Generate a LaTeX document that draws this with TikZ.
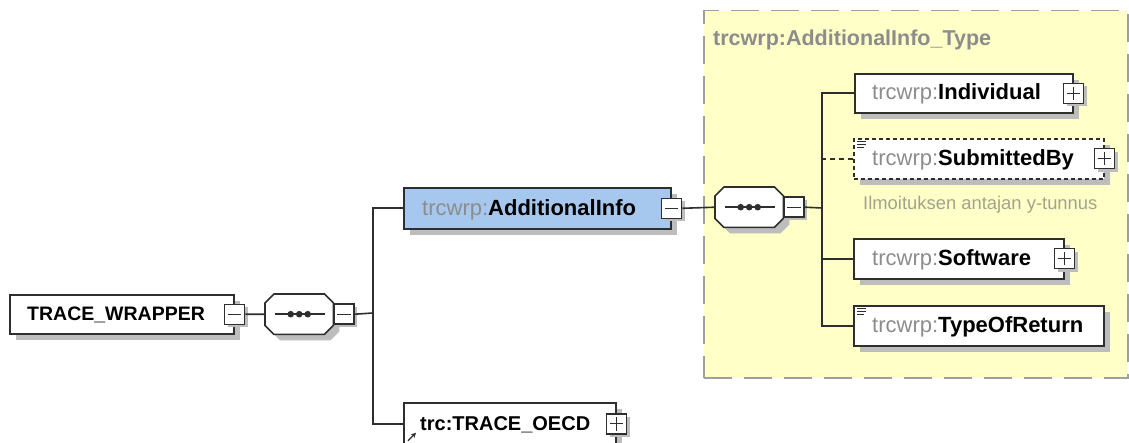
\documentclass[tikz,border=0pt]{standalone}
\usepackage{fontspec}
\setmainfont{Liberation Sans}
\usetikzlibrary{calc,shadows,arrows.meta}
\definecolor{ybg}{HTML}{FFFFC8}
\definecolor{blu}{HTML}{A6C8EE}
\definecolor{pre}{HTML}{8C8C8C}
\definecolor{brd}{HTML}{2E2E2E}
\definecolor{shd}{HTML}{BDBDBD}
\definecolor{dsc}{HTML}{A3A38C}
\newcommand{\octagon}[1]{%
  \fill[shd] ($(#1.north west)+(15,6)$) -- ($(#1.north east)+(-3,6)$) -- ($(#1.north east)+(6,15)$) -- ($(#1.south east)+(6,-3)$) -- ($(#1.south east)+(-3,6)$) -- ($(#1.south west)+(15,6)$) -- ($(#1.south west)+(6,-3)$) -- ($(#1.north west)+(6,15)$) -- cycle;
  \draw[brd,line width=1.6pt,fill=white] ($(#1.north west)+(9,0)$) -- ($(#1.north east)+(-9,0)$) -- ($(#1.north east)+(0,9)$) -- ($(#1.south east)+(0,-9)$) -- ($(#1.south east)+(-9,0)$) -- ($(#1.south west)+(9,0)$) -- ($(#1.south west)+(0,-9)$) -- ($(#1.north west)+(0,9)$) -- cycle;
  \draw[brd,line width=1.4pt] ($(#1.west)+(10,0)$) -- ($(#1.east)+(-8,0)$);
  \fill[brd] (#1.center) circle (3.3) ($(#1.center)+(-8.5,0)$) circle (3.3) ($(#1.center)+(8.5,0)$) circle (3.3);
}
\newcommand{\minusmark}[1]{\draw[brd,line width=1.2pt] ($(#1.west)+(4,0)$) -- ($(#1.east)+(-4,0)$);}
\newcommand{\plusmark}[1]{\draw[brd,line width=1.2pt] ($(#1.west)+(4,0)$) -- ($(#1.east)+(-4,0)$) ($(#1.north)+(0,4)$) -- ($(#1.south)+(0,-4)$);}
\newcommand{\listicon}[1]{\draw[brd,line width=0.9pt] ($(#1.north west)+(4,3)$) -- ++(9,0) ($(#1.north west)+(4,6)$) -- ++(9,0) ($(#1.north west)+(4,9)$) -- ++(7,0);}
\begin{document}
\begin{tikzpicture}[x=1pt,y=-1pt,
  elbox/.style={draw=brd,line width=1.6pt,fill=white,rectangle,inner sep=0pt,anchor=north west,
     drop shadow={shadow xshift=6pt,shadow yshift=-6pt,fill=shd,opacity=1}},
  seqbox/.style={rectangle,inner sep=0pt,anchor=north west,minimum width=68pt,minimum height=40pt},
  pmbox/.style={draw=brd,line width=1.4pt,fill=white,rectangle,inner sep=0pt,minimum size=20pt,
     drop shadow={shadow xshift=3pt,shadow yshift=-3pt,fill=shd,opacity=1}},
  lbl/.style={anchor=mid west,inner sep=0pt,font=\fontsize{22}{24}\selectfont},
  caplbl/.style={anchor=mid west,inner sep=0pt,font=\fontsize{19.5}{22}\selectfont\bfseries},
  conn/.style={draw=brd,line width=1.6pt}]
\useasboundingbox (0,0) rectangle (1129,443);
\fill[white] (0,0) rectangle (1129,443);

% complex type container
\node[anchor=north west,minimum width=424pt,minimum height=367pt,inner sep=0pt,fill=ybg,draw=gray!75,
  line width=1.5pt,dash pattern=on 28pt off 12pt] (typebox) at (703,10) {};
\node[anchor=mid west,inner sep=0pt,font=\fontsize{21.5}{24}\selectfont\bfseries,text=pre] (typetitle) at (713,43) {trcwrp:AdditionalInfo\_Type};

% junction points
\coordinate (j1) at (373,313);
\coordinate (j2) at (822,208);

% placement of nodes
\node[elbox,minimum width=224pt,minimum height=39pt] (tw) at (9,294) {};
\node[seqbox] (seq1) at (265,294) {};
\node[elbox,fill=blu,minimum width=267pt,minimum height=41pt] (ai) at (403,187) {};
\node[elbox,minimum width=212pt,minimum height=42pt] (oecd) at (403,402) {};
\node[seqbox] (seq2) at (715,187) {};
\node[elbox,minimum width=218pt,minimum height=39pt] (ind) at (854,73) {};
\node[elbox,dash pattern=on 4pt off 3pt,minimum width=250pt,minimum height=40pt] (sub) at (853,138) {};
\node[elbox,minimum width=210pt,minimum height=40pt] (sw) at (853,238) {};
\node[elbox,minimum width=250pt,minimum height=40pt] (tor) at (853,305) {};

% sequences
\octagon{seq1}
\octagon{seq2}

% expand / collapse boxes
\node[pmbox] (pmA) at (tw.east) {}; \minusmark{pmA}
\node[pmbox,anchor=west] (pmB) at (seq1.east) {}; \minusmark{pmB}
\node[pmbox] (pmC) at (ai.east) {}; \minusmark{pmC}
\node[pmbox,anchor=west] (pmD) at (seq2.east) {}; \minusmark{pmD}
\node[pmbox] (pmE) at (oecd.east) {}; \plusmark{pmE}
\node[pmbox] (pmF) at (ind.east) {}; \plusmark{pmF}
\node[pmbox] (pmG) at (sub.east) {}; \plusmark{pmG}
\node[pmbox] (pmH) at (sw.east) {}; \plusmark{pmH}

% connectors
\draw[conn] (pmA.east) -- (seq1.west);
\draw[conn] (pmB.east) -- (j1);
\draw[conn] (ai.west) -| (j1) |- (oecd.west);
\draw[conn] (pmC.east) -- (seq2.west);
\draw[conn] (pmD.east) -- (j2);
\draw[conn] (ind.west) -| (j2) |- (tor.west);
\draw[conn] (sw.west) -- (sw.west -| j2);
\draw[conn,dash pattern=on 5pt off 4pt] (sub.west) -- (sub.west -| j2);

% labels
\node[caplbl] (twt) at (27,318) {TRACE\_WRAPPER};
\node[lbl] (ait) at (422,213) {\textcolor{pre}{trcwrp:}\textbf{AdditionalInfo}};
\node[caplbl,font=\fontsize{20}{22}\selectfont\bfseries] (oecdt) at (420,428) {trc:TRACE\_OECD};
\node[lbl] (indt) at (872,97) {\textcolor{pre}{trcwrp:}\textbf{Individual}};
\node[lbl] (subt) at (872,163) {\textcolor{pre}{trcwrp:}\textbf{SubmittedBy}};
\node[anchor=mid west,inner sep=0pt,font=\fontsize{18.4}{20}\selectfont,text=dsc] (subd) at (863,207) {Ilmoituksen antajan y-tunnus};
\node[lbl] (swt) at (872,263) {\textcolor{pre}{trcwrp:}\textbf{Software}};
\node[lbl] (tort) at (872,330) {\textcolor{pre}{trcwrp:}\textbf{TypeOfReturn}};

% icons
\listicon{sub}
\listicon{tor}
\draw[brd,line width=1.2pt,-{Stealth[length=5pt,width=5pt]}] ($(oecd.west)+(5,17)$) -- ($(oecd.west)+(13,9)$);
\end{tikzpicture}
\end{document}
